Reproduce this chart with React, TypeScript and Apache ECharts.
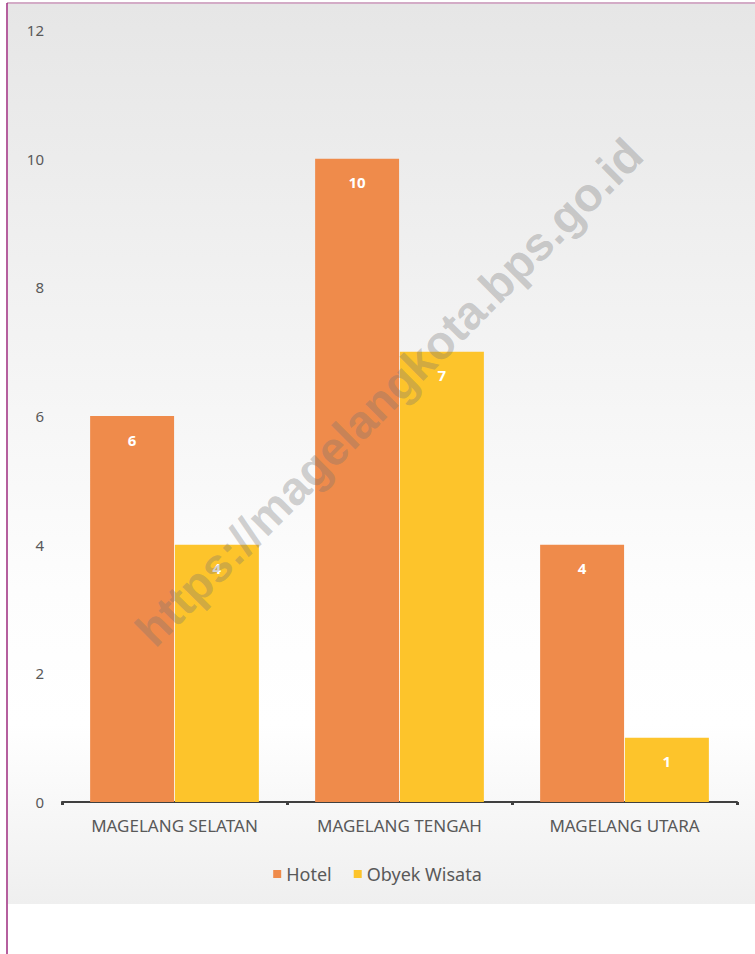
import React, { useEffect, useRef } from "react";
import * as echarts from "echarts";

const categories = ["MAGELANG SELATAN", "MAGELANG TENGAH", "MAGELANG UTARA"];
const hotel = [6, 10, 4];
const obyekWisata = [4, 7, 1];
const seriesNames = ["Hotel", "Obyek Wisata"];
const yTicks = { min: 0, max: 12, interval: 2 };
const watermarkText = "https://magelangkota.bps.go.id";

export default function App() {
  const ref = useRef<HTMLDivElement>(null);
  useEffect(() => {
    if (!ref.current) return;
    const chart = echarts.init(ref.current, null, { renderer: "svg" });
    const font = "Noto Sans";
    chart.setOption({
      animation: false,
      textStyle: { fontFamily: font },
      graphic: [
        {
          type: "rect",
          z: -10,
          shape: { x: 8, y: 4, width: 747, height: 900 },
          style: {
            fill: new echarts.graphic.LinearGradient(0, 0, 0, 1, [
              { offset: 0, color: "#e6e6e6" },
              { offset: 0.65, color: "#fdfdfd" },
              { offset: 0.8, color: "#ffffff" },
              { offset: 1, color: "#efefef" },
            ]),
          },
        },
        {
          type: "line",
          z: 20,
          shape: { x1: 7, y1: 3, x2: 755, y2: 3 },
          style: { stroke: "#c48fb3", lineWidth: 1.5 },
        },
        {
          type: "line",
          z: 20,
          shape: { x1: 7, y1: 3, x2: 7, y2: 954 },
          style: { stroke: "#9c2a7e", lineWidth: 1.5 },
        },
        {
          type: "text",
          z: 30,
          x: 389,
          y: 392,
          rotation: Math.PI / 4,
          style: {
            text: watermarkText,
            font: "bold 47px 'Liberation Sans'",
            fill: "rgba(115,115,115,0.32)",
            align: "center",
            verticalAlign: "middle",
          },
        },
      ],
      legend: {
        data: seriesNames,
        top: 860,
        left: "center",
        icon: "rect",
        itemWidth: 8,
        itemHeight: 8,
        itemGap: 22,
        textStyle: { fontSize: 18, color: "#595959", fontFamily: font },
      },
      grid: { left: 62, right: 18, top: 30, bottom: 152 },
      xAxis: {
        type: "category",
        data: categories,
        axisLine: { lineStyle: { color: "#404040", width: 2 } },
        axisTick: { show: true, length: 3, lineStyle: { color: "#404040", width: 3 } },
        axisLabel: { color: "#595959", fontSize: 17, margin: 15, fontFamily: font },
      },
      yAxis: {
        type: "value",
        min: yTicks.min,
        max: yTicks.max,
        interval: yTicks.interval,
        splitLine: { show: false },
        axisLine: { show: false },
        axisTick: { show: false },
        axisLabel: { color: "#595959", fontSize: 15, margin: 18, fontFamily: font },
      },
      series: [
        {
          name: seriesNames[0],
          type: "bar",
          data: hotel,
          barGap: "1%",
          barCategoryGap: "25%",
          itemStyle: { color: "#ef8b4b" },
          label: {
            show: true,
            position: "insideTop",
            distance: 16,
            color: "#ffffff",
            fontWeight: "bold",
            fontSize: 15,
          },
        },
        {
          name: seriesNames[1],
          type: "bar",
          data: obyekWisata,
          itemStyle: { color: "#fdc42b" },
          label: {
            show: true,
            position: "insideTop",
            distance: 16,
            color: "#ffffff",
            fontWeight: "bold",
            fontSize: 15,
          },
        },
      ],
    });
    return () => chart.dispose();
  }, []);
  return (
    <div
      ref={ref}
      style={{ position: "fixed", left: 0, top: 0, width: 755, height: 954, background: "#ffffff" }}
    />
  );
}
